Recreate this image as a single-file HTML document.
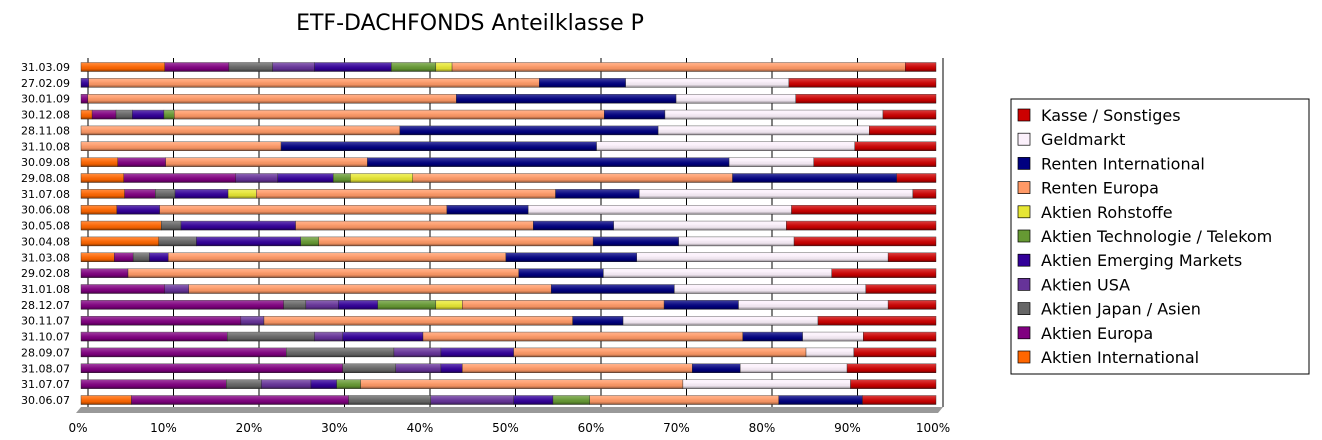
<!DOCTYPE html>
<html><head><meta charset="utf-8"><style>
body{margin:0;background:#fff;font-family:"Liberation Sans","DejaVu Sans",sans-serif;}
svg{display:block}
</style></head><body>
<svg id="chart" width="1322" height="440" xmlns="http://www.w3.org/2000/svg">
<defs>
<linearGradient id="shade" x1="0" y1="0" x2="0" y2="1">
<stop offset="0" stop-color="#fff" stop-opacity="0.25"/>
<stop offset="0.35" stop-color="#fff" stop-opacity="0.1"/>
<stop offset="0.7" stop-color="#000" stop-opacity="0.05"/>
<stop offset="1" stop-color="#000" stop-opacity="0.45"/>
</linearGradient>
</defs>
<text x="470" y="30" font-size="22" text-anchor="middle" font-family="DejaVu Sans, sans-serif">ETF-DACHFONDS Anteilklasse P</text>
<g id="grid"></g><g id="bars"></g><g id="axis"></g>
<rect x="1011" y="99" width="298" height="275" fill="#fff" stroke="#000" stroke-width="1"/>
<g id="legend"></g>
</svg>
<script>
const dates=["31.03.09","27.02.09","30.01.09","30.12.08","28.11.08","31.10.08","30.09.08","29.08.08","31.07.08","30.06.08","30.05.08","30.04.08","31.03.08","29.02.08","31.01.08","28.12.07","30.11.07","31.10.07","28.09.07","31.08.07","31.07.07","30.06.07"];
const seriesNames=["Aktien International","Aktien Europa","Aktien Japan / Asien","Aktien USA","Aktien Emerging Markets","Aktien Technologie / Telekom","Aktien Rohstoffe","Renten Europa","Renten International","Geldmarkt","Kasse / Sonstiges"];
const colors=["#ff6600","#800080","#666666","#663399","#330099","#669933","#e6e633","#ff9966","#000080","#fbf0fb","#cc0000"];
const aktienInternational=[9.8,0,0,1.3,0,0,4.3,5.0,5.1,4.2,9.4,9.1,3.9,0,0,0,0,0,0,0,0,5.9];
const aktienEuropa=[7.5,0,0.8,2.8,0,0,5.6,13.1,3.6,0,0,0,2.2,5.5,9.8,23.7,18.7,17.1,24.0,30.6,17.0,25.4];
const aktienJapan=[5.1,0,0,1.9,0,0,0,0,2.3,0,2.3,4.4,1.9,0,0,2.6,0,10.2,12.6,6.2,4.1,9.6];
const aktienUSA=[4.9,0,0,0,0,0,0,4.9,0,0,0,0,0,0,2.8,3.8,2.7,3.3,5.5,5.3,5.8,9.7];
const aktienEM=[9.0,0.9,0,3.7,0,0,0,6.5,6.2,5.0,13.4,12.2,2.2,0,0,4.6,0,9.4,8.5,2.5,3.0,4.6];
const aktienTech=[5.2,0,0,1.2,0,0,0,2.0,0,0,0,2.1,0,0,0,6.8,0,0,0,0,2.8,4.3];
const aktienRohstoffe=[1.9,0,0,0,0,0,0,7.3,3.3,0,0,0,0,0,0,3.1,0,0,0,0,0,0];
const rentenEuropa=[53.0,52.7,43.1,50.3,37.3,23.4,23.6,37.4,35.0,33.6,27.8,32.1,39.5,45.7,42.4,23.6,36.1,37.4,34.2,26.9,37.7,22.1];
const rentenInternational=[0,10.1,25.7,7.1,30.2,36.9,42.3,19.2,9.8,9.5,9.4,10.0,15.3,9.9,14.4,8.7,5.9,7.0,0,5.6,0,9.8];
const geldmarkt=[0,19.1,14.0,25.5,24.7,30.2,9.9,0,32.0,30.8,20.2,13.5,29.4,26.7,22.4,17.5,22.8,7.1,5.6,12.5,19.6,0];
const kasse=[3.6,17.2,16.4,6.2,7.8,9.5,14.3,4.6,2.7,16.9,17.5,16.6,5.6,12.2,8.2,5.6,13.8,8.5,9.6,10.4,10.0,8.6];
const tickLabels=["0%","10%","20%","30%","40%","50%","60%","70%","80%","90%","100%"];
const allSeries=[aktienInternational,aktienEuropa,aktienJapan,aktienUSA,aktienEM,aktienTech,aktienRohstoffe,rentenEuropa,rentenInternational,geldmarkt,kasse];

const NS="http://www.w3.org/2000/svg";
function mk(t,a,p){const e=document.createElementNS(NS,t);for(const k in a)e.setAttribute(k,a[k]);p.appendChild(e);return e;}
const x0=81,x1=936;
function xs(v){return x0+(x1-x0)*v/100;}
function ys(i){return 67+i*(400-67)/(dates.length-1);}
const grid=document.getElementById('grid'),bars=document.getElementById('bars'),axis=document.getElementById('axis'),legend=document.getElementById('legend');

const fl=mk('polygon',{points:"76,413 81,407 943,407 938,413",fill:"#999"},grid);


tickLabels.forEach((t,k)=>{
  const gx=xs(k*10)+7;
  const g=mk('line',{x1:gx,y1:58,x2:gx,y2:407,stroke:"#000","stroke-width":1},grid);
  
  
  const tx=mk('text',{x:xs(k*10)-3,y:432,"font-size":12,"text-anchor":"middle","font-family":"DejaVu Sans, sans-serif"},axis);
  tx.textContent=t;
  
  
});
dates.forEach((d,i)=>{
  const y=ys(i);
  const lb=mk('text',{x:70,y:y+4,"font-size":11,"text-anchor":"end","font-family":"DejaVu Sans, sans-serif"},axis);
  lb.textContent=d;
  
  
  let cum=0;
  allSeries.forEach((s,j)=>{
    const v=s[i];
    if(v<=0)return;
    const a=xs(cum),b=xs(cum+v);cum+=v;
    const r=mk('rect',{x:a,y:y-4.5,width:Math.max(0,b-a),height:9,fill:colors[j],stroke:"#222","stroke-width":0.4},bars);
    
    
    const o=mk('rect',{x:a,y:y-4.5,width:Math.max(0,b-a),height:9,fill:"url(#shade)"},bars);
    
    
  });
});
for(let j=seriesNames.length-1;j>=0;j--){
  const k=seriesNames.length-1-j;
  const ly=115+k*24.2;
  const sw=mk('rect',{x:1018,y:ly-6,width:12,height:12,fill:colors[j],stroke:"#000","stroke-width":0.7},legend);
  
  
  const t=mk('text',{x:1041,y:ly+6,"font-size":16,"font-family":"DejaVu Sans, sans-serif"},legend);
  t.textContent=seriesNames[j];
  
  
}
</script>
</body></html>
